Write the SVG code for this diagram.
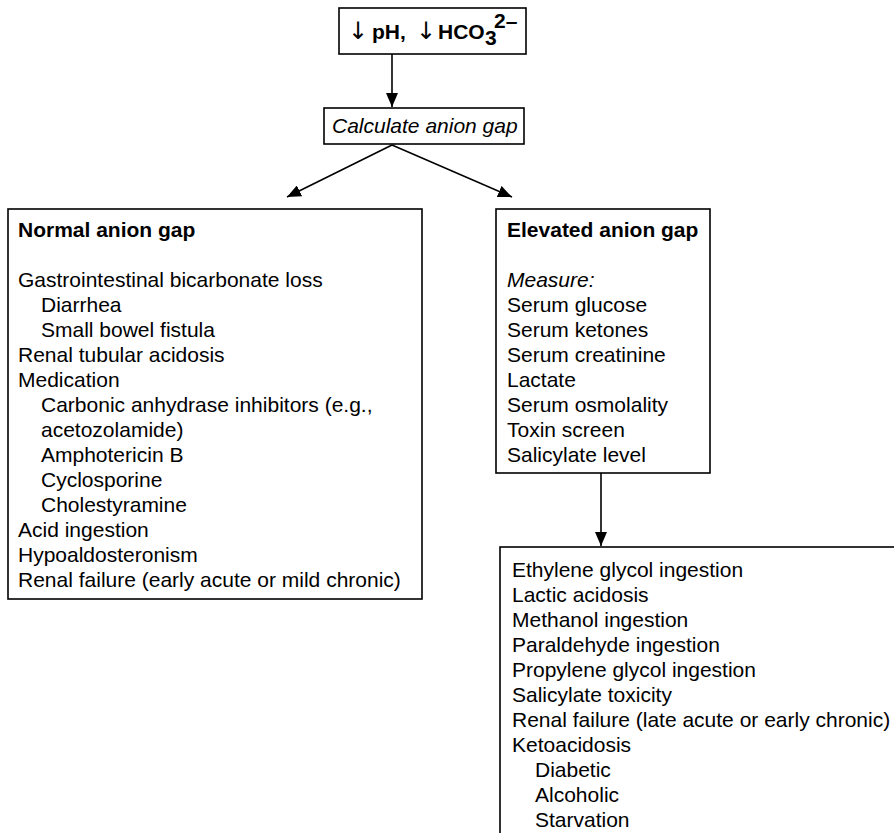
<svg xmlns="http://www.w3.org/2000/svg" width="894" height="833" viewBox="0 0 894 833">
<style>
.box{fill:#fff;stroke:#000;stroke-width:1.6}
.t{font-family:"Liberation Sans",Arial,sans-serif;font-size:21px;fill:#000}
.b{font-weight:bold}
.i{font-style:italic}
.c{stroke:#000;stroke-width:1.6;fill:none}
.ar{font-family:"DejaVu Sans",sans-serif;font-size:24px;font-weight:normal}
</style>
<defs>
<marker id="ah" markerUnits="userSpaceOnUse" markerWidth="14" markerHeight="12" refX="14" refY="6" orient="auto">
<path d="M0,0 L14,6 L0,12 z" fill="#000"/>
</marker>
</defs>
<rect width="894" height="833" fill="#fff"/>
<g id="connectors">
<line class="c" x1="392" y1="54" x2="392" y2="107" marker-end="url(#ah)"/>
<line class="c" x1="392" y1="145" x2="287" y2="197" marker-end="url(#ah)"/>
<line class="c" x1="392" y1="145" x2="512" y2="197" marker-end="url(#ah)"/>
<line class="c" x1="601" y1="473" x2="601" y2="546" marker-end="url(#ah)"/>
</g>
<g id="start">
<rect class="box" x="339" y="8" width="187" height="46"/>
<text class="t b" y="39"><tspan class="ar" x="348">↓</tspan><tspan x="372">pH,</tspan><tspan class="ar" x="416">↓</tspan><tspan x="438">HCO</tspan></text>
<text class="t b" x="485" y="45" font-size="14">3</text>
<text class="t b" x="494" y="28" font-size="14">2–</text>
</g>
<g id="calc">
<rect class="box" x="324" y="108" width="200" height="36"/>
<text class="t i" x="332" y="133">Calculate anion gap</text>
</g>
<g id="normal">
<rect class="box" x="8" y="209" width="414" height="390"/>
<text class="t b" x="18" y="237">Normal anion gap</text>
<text class="t" x="18" y="287">Gastrointestinal bicarbonate loss</text>
<text class="t" x="41" y="312">Diarrhea</text>
<text class="t" x="41" y="337">Small bowel fistula</text>
<text class="t" x="18" y="362">Renal tubular acidosis</text>
<text class="t" x="18" y="387">Medication</text>
<text class="t" x="41" y="412">Carbonic anhydrase inhibitors (e.g.,</text>
<text class="t" x="41" y="437">acetozolamide)</text>
<text class="t" x="41" y="462">Amphotericin B</text>
<text class="t" x="41" y="487">Cyclosporine</text>
<text class="t" x="41" y="512">Cholestyramine</text>
<text class="t" x="18" y="537">Acid ingestion</text>
<text class="t" x="18" y="562">Hypoaldosteronism</text>
<text class="t" x="18" y="587">Renal failure (early acute or mild chronic)</text>
</g>
<g id="elevated">
<rect class="box" x="496" y="209" width="214" height="264"/>
<text class="t b" x="507" y="237">Elevated anion gap</text>
<text class="t i" x="507" y="287">Measure:</text>
<text class="t" x="507" y="312">Serum glucose</text>
<text class="t" x="507" y="337">Serum ketones</text>
<text class="t" x="507" y="362">Serum creatinine</text>
<text class="t" x="507" y="387">Lactate</text>
<text class="t" x="507" y="412">Serum osmolality</text>
<text class="t" x="507" y="437">Toxin screen</text>
<text class="t" x="507" y="462">Salicylate level</text>
</g>
<g id="causes">
<rect class="box" x="500" y="547" width="420" height="320"/>
<text class="t" x="512" y="577">Ethylene glycol ingestion</text>
<text class="t" x="512" y="602">Lactic acidosis</text>
<text class="t" x="512" y="627">Methanol ingestion</text>
<text class="t" x="512" y="652">Paraldehyde ingestion</text>
<text class="t" x="512" y="677">Propylene glycol ingestion</text>
<text class="t" x="512" y="702">Salicylate toxicity</text>
<text class="t" x="512" y="727">Renal failure (late acute or early chronic)</text>
<text class="t" x="512" y="752">Ketoacidosis</text>
<text class="t" x="535" y="777">Diabetic</text>
<text class="t" x="535" y="802">Alcoholic</text>
<text class="t" x="535" y="827">Starvation</text>
</g>
</svg>
